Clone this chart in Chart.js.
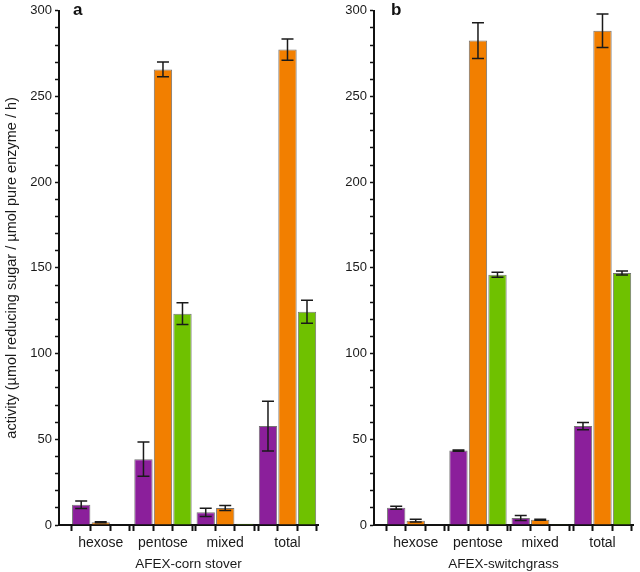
<!DOCTYPE html>
<html>
<head>
<meta charset="utf-8">
<script src="https://cdn.jsdelivr.net/npm/chart.js@4"></script>
<style>
  body { margin: 0; background: #fff; }
  #wrap { position: relative; width: 640px; height: 572px; }
  .painel { position: absolute; top: 0; height: 572px; }
  .letra { position: absolute; top: 0px; font: bold 17px "Liberation Sans", Arial, sans-serif; color: #111; }
</style>
</head>
<body>
<div id="wrap">
  <div class="painel" style="left:0;width:320px"><canvas id="graficoA"></canvas></div>
  <div class="painel" style="left:315px;width:325px"><canvas id="graficoB"></canvas></div>
  <div class="letra" style="left:73px">a</div>
  <div class="letra" style="left:391px">b</div>
</div>
<script>
// data
const categorias = ['hexose', 'pentose', 'mixed', 'total'];
const cores = ['#8B1F9B', '#F27F00', '#6FC100'];

// a: AFEX-corn stover
const roxoA = [11.8, 38.4, 7.4, 57.7];
const roxoAErr = [2.2, 10, 2.4, 14.5];
const laranjaA = [1.6, 265.8, 9.9, 277.4];
const laranjaAErr = [0.3, 4.3, 1.5, 6.2];
const verdeA = [0.3, 123.3, 0.8, 124.4];
const verdeAErr = [0, 6.3, 0, 6.7];

// b: AFEX-switchgrass
const roxoB = [10.1, 43.4, 4.1, 57.7];
const roxoBErr = [0.9, 0.3, 1.5, 2.1];
const laranjaB = [2.5, 282.6, 3.1, 288.4];
const laranjaBErr = [0.8, 10.5, 0.3, 9.8];
const verdeB = [0.2, 146, 0.5, 147];
const verdeBErr = [0, 1.5, 0, 1.2];

const yTicks = [0, 50, 100, 150, 200, 250, 300];

Chart.defaults.font.family = '"Liberation Sans", Arial, sans-serif';
Chart.defaults.color = '#1a1a1a';

const grupo = 0.94; // part of each category filled by the 3 bars

// error bars drawn with the y scale
const barrasErro = {
  id: 'barrasErro',
  afterDatasetsDraw(chart) {
    const ctx = chart.ctx;
    const y = chart.scales.y;
    ctx.save();
    ctx.strokeStyle = '#1a1a1a';
    ctx.lineWidth = 1.5;
    chart.data.datasets.forEach((ds, i) => {
      chart.getDatasetMeta(i).data.forEach((bar, j) => {
        const e = ds.erros[j];
        if (!e) return;
        const v = ds.data[j].y;
        const t = y.getPixelForValue(v + e);
        const b = y.getPixelForValue(v - e);
        ctx.beginPath();
        ctx.moveTo(bar.x, t); ctx.lineTo(bar.x, b);
        ctx.moveTo(bar.x - 6, t); ctx.lineTo(bar.x + 6, t);
        ctx.moveTo(bar.x - 6, b); ctx.lineTo(bar.x + 6, b);
        ctx.stroke();
      });
    });
    ctx.restore();
  }
};

function serie(valores, erros, cor) {
  return {
    data: valores.map((v, i) => ({ x: i, y: v })),
    erros: erros,
    xAxisID: 'x',
    yAxisID: 'y',
    backgroundColor: cor,
    borderColor: 'rgba(70,70,70,0.75)',
    borderWidth: 1,
    categoryPercentage: grupo,
    barPercentage: 0.94
  };
}

function criarGrafico(id, series, tituloX, tituloY, padDir) {
  new Chart(document.getElementById(id), {
    type: 'bar',
    data: { datasets: series },
    plugins: [barrasErro],
    options: {
      responsive: true,
      maintainAspectRatio: false,
      animation: false,
      layout: { padding: { top: 9, right: padDir, left: 0, bottom: 0 } },
      plugins: { legend: { display: false }, tooltip: { enabled: false } },
      scales: {
        x: {
          type: 'linear', position: 'bottom', weight: 1,
          min: -0.67, max: 3.49, bounds: 'data', offset: false,
          afterBuildTicks: s => { s.ticks = categorias.map((c, i) => ({ value: i })); },
          afterFit: s => { s.height = 47; },
          ticks: {
            autoSkip: false, maxRotation: 0, minRotation: 0,
            padding: 4,
            font: { size: 14 },
            callback: (v, i) => categorias[i]
          },
          grid: { offset: false, drawOnChartArea: false, tickLength: 6, tickColor: 'rgba(0,0,0,0)' },
          border: { color: '#111', width: 2 },
          title: { display: true, text: tituloX, font: { size: 13.5 }, padding: { top: 0, bottom: 0 } }
        },
        // marks at the edges of the bars
        xb: {
          type: 'linear', position: 'bottom', weight: 0,
          min: -0.67, max: 3.49, bounds: 'data', offset: false,
          afterBuildTicks: s => {
            const t = [];
            categorias.forEach((c, i) => {
              const h = grupo / 2, d = grupo / 6;
              t.push({ value: i - h }, { value: i - d }, { value: i + d }, { value: i + h });
            });
            s.ticks = t;
          },
          afterFit: s => { s.height = 0; },
          ticks: { display: false },
          grid: { offset: false, drawOnChartArea: false, tickLength: 6, tickWidth: 2, tickColor: '#111' },
          border: { display: false }
        },
        y: {
          min: 0, max: 300,
          afterFit: s => { s.width = 59; },
          afterBuildTicks: s => {
            const t = [];
            for (let v = 0; v <= 300; v += 10) t.push({ value: v });
            s.ticks = t;
          },
          ticks: {
            padding: 3, autoSkip: false,
            font: { size: 13 },
            callback: v => yTicks.includes(v) ? v : ''
          },
          grid: { drawOnChartArea: false, tickLength: 4, tickWidth: 1.5, tickColor: '#111' },
          border: { color: '#111', width: 2 },
          title: { display: !!tituloY, text: tituloY, font: { size: 14.5 }, padding: { top: 3, bottom: 0 } }
        }
      }
    }
  });
}

criarGrafico('graficoA', [
  serie(roxoA, roxoAErr, cores[0]),
  serie(laranjaA, laranjaAErr, cores[1]),
  serie(verdeA, verdeAErr, cores[2])
], 'AFEX-corn stover', 'activity (µmol reducing sugar / µmol pure enzyme / h)', 2);

criarGrafico('graficoB', [
  serie(roxoB, roxoBErr, cores[0]),
  serie(laranjaB, laranjaBErr, cores[1]),
  serie(verdeB, verdeBErr, cores[2])
], 'AFEX-switchgrass', '', 7);
</script>
</body>
</html>
